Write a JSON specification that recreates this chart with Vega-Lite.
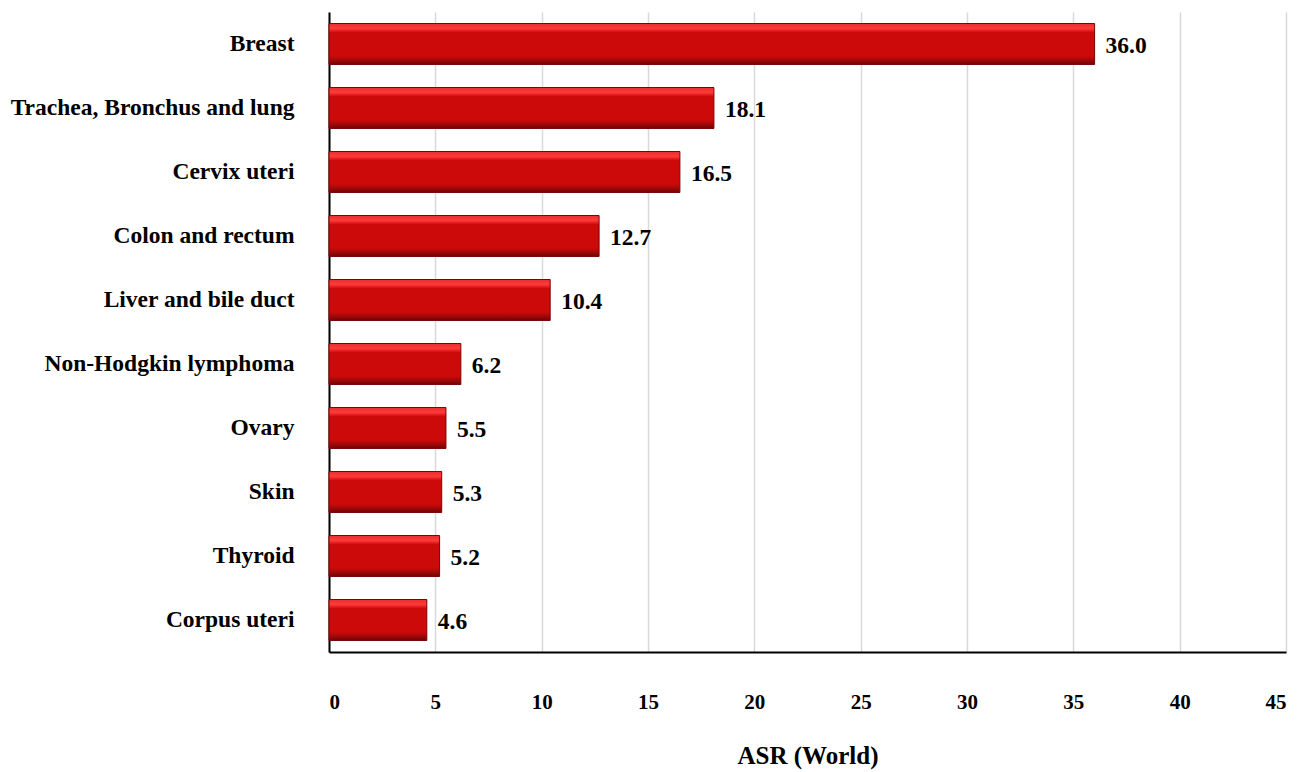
{
  "$schema": "https://vega.github.io/schema/vega-lite/v6.json",
  "autosize": "none",
  "width": 957,
  "height": 640,
  "padding": {"left": 329, "top": 12, "right": 24, "bottom": 120},
  "background": "white",
  "config": {"view": {"stroke": null}},
  "data": {"values": [
    {"site": "Breast", "asr": 36.0},
    {"site": "Trachea, Bronchus and lung", "asr": 18.1},
    {"site": "Cervix uteri", "asr": 16.5},
    {"site": "Colon and rectum", "asr": 12.7},
    {"site": "Liver and bile duct", "asr": 10.4},
    {"site": "Non-Hodgkin lymphoma", "asr": 6.2},
    {"site": "Ovary", "asr": 5.5},
    {"site": "Skin", "asr": 5.3},
    {"site": "Thyroid", "asr": 5.2},
    {"site": "Corpus uteri", "asr": 4.6}
  ]},
  "encoding": {
    "y": {"field": "site", "type": "nominal", "sort": null,
      "scale": {"paddingInner": 0.36, "paddingOuter": 0.18},
      "axis": {"title": null, "ticks": false, "domainColor": "#000000", "domainWidth": 2,
        "labelFont": "Liberation Serif", "labelFontWeight": "bold", "labelFontSize": 23.5,
        "labelColor": "#000000", "labelPadding": 35, "labelLimit": 400, "grid": false}},
    "x": {"field": "asr", "type": "quantitative",
      "scale": {"domain": [0, 45], "nice": false},
      "axis": {"values": [0,5,10,15,20,25,30,35,40,45], "ticks": false, "domainColor": "#000000", "domainWidth": 2,
        "grid": true, "gridColor": "#d9d9d9", "gridWidth": 1.5,
        "labelFont": "Liberation Serif", "labelFontWeight": "bold", "labelFontSize": 21,
        "labelColor": "#000000", "labelPadding": 39,
        "title": "ASR (World)", "titleFont": "Liberation Serif", "titleFontWeight": "bold",
        "titleFontSize": 25, "titleColor": "#000000", "titlePadding": 31}}
  },
  "layer": [
    {"mark": {"type": "bar", "stroke": "#7a0505", "strokeWidth": 1,
      "color": {"gradient": "linear", "x1": 0, "y1": 0, "x2": 0, "y2": 1,
        "stops": [
          {"offset": 0, "color": "#e83030"},
          {"offset": 0.12, "color": "#ff3a3a"},
          {"offset": 0.22, "color": "#cc0a0a"},
          {"offset": 0.8, "color": "#cc0a0a"},
          {"offset": 0.9, "color": "#a00808"},
          {"offset": 1, "color": "#6e0505"}
        ]}}},
    {"mark": {"type": "text", "align": "left", "baseline": "middle", "dx": 11, "dy": 2,
      "font": "Liberation Serif", "fontWeight": "bold", "fontSize": 23.5, "color": "#000000"},
     "encoding": {"text": {"field": "asr", "type": "quantitative", "format": ".1f"}}}
  ]
}
